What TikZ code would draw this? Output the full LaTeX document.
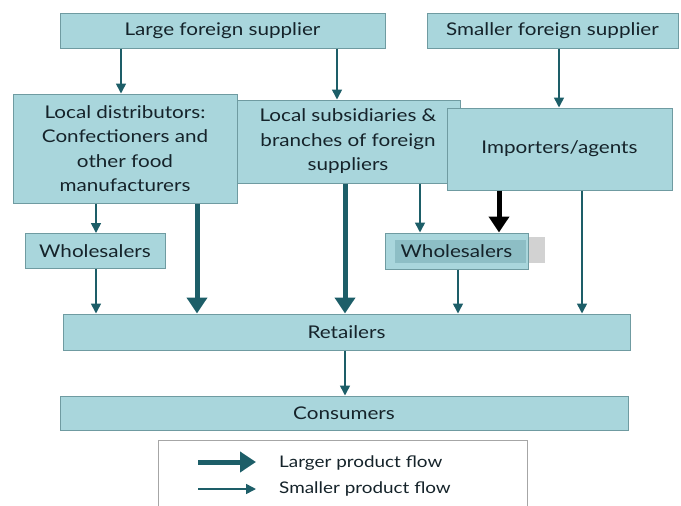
\documentclass[tikz,border=0pt]{standalone}
\usepackage{fontspec}
\setmainfont{Lato}
\newfontfamily\boxfont[FakeStretch=1.18]{Lato}
\usetikzlibrary{arrows.meta}
\definecolor{boxfill}{HTML}{A9D6DC}
\definecolor{boxdraw}{HTML}{6F9BA1}
\definecolor{flow}{HTML}{1D5E68}
\definecolor{txt}{HTML}{15232A}
\begin{document}
\begin{tikzpicture}[x=1pt,y=-1pt,
  box/.style={draw=boxdraw,fill=boxfill,line width=1pt,inner sep=0pt,text=txt,align=center,
    font=\boxfont\fontsize{17.5}{24.5}\selectfont},
  thinflow/.style={draw=flow,line width=1.6pt,-{Triangle[width=10pt,length=10pt]}},
  thickflow/.style={draw=flow,line width=5pt,-{Triangle[width=20pt,length=16pt]}},
  blackflow/.style={draw=black,line width=5pt,-{Triangle[width=20pt,length=16pt]}},
  plainline/.style={draw=flow,line width=1.6pt}]
\useasboundingbox (0,0) rectangle (681,506);
% top suppliers
\node[box,minimum width=325pt,minimum height=35pt] (lfs) at (222.5,30.5) {Large foreign supplier};
\node[box,minimum width=251pt,minimum height=35pt] (sfs) at (552.5,30.5) {Smaller foreign supplier};
% middle level
\node[box,minimum width=224pt,minimum height=83pt] (sub) at (348,141.5) {Local subsidiaries \&\\branches of foreign\\suppliers};
\node[box,minimum width=224pt,minimum height=109pt] (ld) at (125,148.5) {Local distributors:\\Confectioners and\\other food\\manufacturers};
\node[box,minimum width=225pt,minimum height=82pt] (imp) at (559.5,149) {Importers/agents};
% wholesalers
\node[box,minimum width=140pt,minimum height=35pt] (wl) at (95,251) {Wholesalers};
\fill[gray!35] (528,237) rectangle (545,263);
\node[box,minimum width=143pt,minimum height=36pt] (wr) at (456.5,251) {};
\fill[boxfill!80!flow] (395,240) rectangle (526,263);
\node[text=txt,font=\boxfont\fontsize{17.5}{24.5}\selectfont] (wrt) at (wr.center) {Wholesalers};
% retailers & consumers
\node[box,minimum width=567pt,minimum height=36pt] (ret) at (346.5,332) {Retailers};
\node[box,minimum width=568pt,minimum height=34pt] (con) at (344,413) {Consumers};
% legend
\node[draw=gray!70,fill=white,line width=1pt,minimum width=369pt,minimum height=80pt,inner sep=0pt] (leg) at (342.5,480) {};
\coordinate (lg1a) at (198,462);
\coordinate (lg1b) at (256,462);
\coordinate (lg2a) at (198,489);
\coordinate (lg2b) at (256,489);
\draw[thickflow] (lg1a) -- (lg1b);
\draw[thinflow] (lg2a) -- (lg2b);
\node[anchor=west,inner sep=0pt,text=txt,font=\boxfont\fontsize{16}{18}\selectfont] (lgt1) at (279,463) {Larger product flow};
\node[anchor=west,inner sep=0pt,text=txt,font=\boxfont\fontsize{16}{18}\selectfont] (lgt2) at (279,489) {Smaller product flow};
% x positions of connectors
\coordinate (xa) at (121,0);
\coordinate (xb) at (337,0);
\coordinate (xc) at (559,0);
\coordinate (xd) at (96,0);
\coordinate (xe) at (197,0);
\coordinate (xf) at (345,0);
\coordinate (xg) at (420,0);
\coordinate (xh) at (499,0);
\coordinate (xi) at (582,0);
\coordinate (xj) at (458,0);
% connectors
\draw[thinflow] (lfs.south -| xa) -- (ld.north -| xa);
\draw[thinflow] (lfs.south -| xb) -- (sub.north -| xb);
\draw[thinflow] (sfs.south -| xc) -- (imp.north -| xc);
\draw[thinflow] (ld.south -| xd) -- (wl.north -| xd);
\draw[thickflow] (ld.south -| xe) -- (ret.north -| xe);
\draw[thickflow] (sub.south -| xf) -- (ret.north -| xf);
\draw[thinflow] (sub.south -| xg) -- (wr.north -| xg);
\draw[blackflow] (imp.south -| xh) -- (wr.north -| xh);
\draw[thinflow] (imp.south -| xi) -- (ret.north -| xi);
\draw[thinflow] (wl.south -| xd) -- (ret.north -| xd);
\draw[thinflow] (wr.south -| xj) -- (ret.north -| xj);
\draw[thinflow] (ret.south -| xf) -- (con.north -| xf);
\end{tikzpicture}
\end{document}
